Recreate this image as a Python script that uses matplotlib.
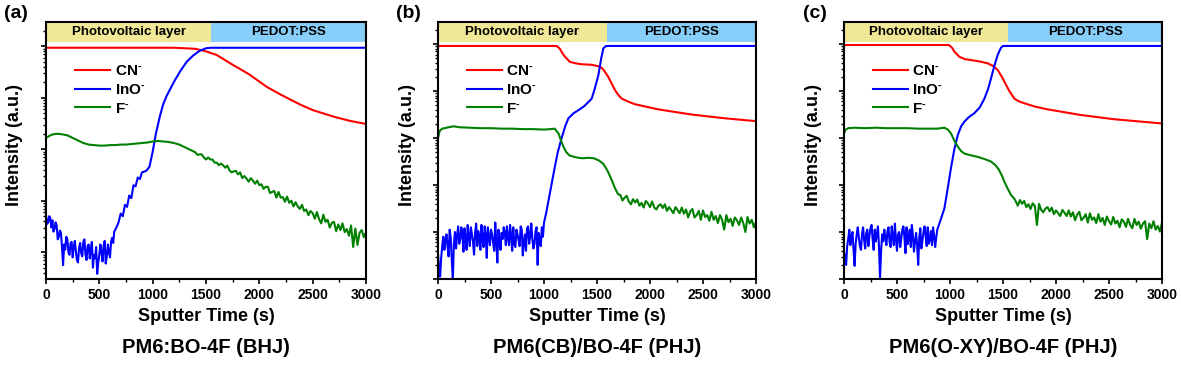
import matplotlib
matplotlib.use("Agg")
import matplotlib.pyplot as plt
import numpy as np

plt.rcParams['font.family'] = ['Liberation Sans', 'DejaVu Sans']
plt.rcParams['font.weight'] = 'bold'
plt.rcParams['mathtext.fontset'] = 'custom'
plt.rcParams['mathtext.rm'] = 'Liberation Sans:bold'
plt.rcParams['mathtext.default'] = 'rm'

# values are log10(intensity)
# ---- (a) PM6:BO-4F (BHJ)
a_cn_t = [0, 1200, 1400, 1500, 1600, 1750, 1900, 2070, 2200, 2380, 2500, 2700, 2850, 3000]
a_cn = [4.97, 4.97, 4.95, 4.90, 4.83, 4.64, 4.46, 4.21, 4.06, 3.87, 3.76, 3.63, 3.55, 3.49]

a_ino_t = (list(range(0, 641, 10)) + list(range(660, 901, 20))
           + [940, 970, 1000, 1030, 1070, 1100, 1130, 1200, 1260, 1320, 1380, 1440, 1500, 1550, 3000])
a_ino = [1.72, 1.55, 1.58, 1.70, 1.66, 1.48, 1.62, 1.40, 1.45, 1.58, 1.52, 1.25, 1.30, 1.42, 1.38, 1.10,
         0.75, 1.15, 1.05, 1.30, 1.25, 1.00, 0.95, 1.18, 1.20, 0.90, 1.10, 1.22, 1.02, 0.85, 0.80, 1.08,
         1.18, 0.98, 0.92, 1.20, 1.25, 0.95, 0.85, 1.12, 1.15, 0.88, 1.05, 1.20, 0.70, 0.95, 0.88, 1.10,
         0.58, 0.80, 0.95, 1.15, 1.00, 0.82, 1.12, 1.22, 0.78, 0.92, 1.15, 1.00, 0.90, 1.20, 1.28, 1.18,
         1.40,
         1.48, 1.58, 1.75, 1.70, 1.92, 1.88, 2.10, 2.05, 2.30, 2.28, 2.45, 2.42, 2.55,
         2.58, 2.66, 2.95, 3.30, 3.66, 3.88, 4.03, 4.31, 4.52, 4.70, 4.82, 4.91, 4.96, 4.97, 4.97]

a_f_t = list(range(0, 1351, 50)) + list(range(1400, 3001, 20))
a_f = [3.22, 3.28, 3.30, 3.29, 3.27, 3.22, 3.17, 3.12, 3.09, 3.08, 3.07, 3.07, 3.08, 3.08, 3.09, 3.09,
       3.10, 3.11, 3.12, 3.13, 3.15, 3.16, 3.15, 3.14, 3.12, 3.09, 3.04, 2.99,
       2.94, 2.89, 2.90, 2.90, 2.84, 2.80, 2.84, 2.80, 2.80, 2.74, 2.74, 2.69, 2.72, 2.69, 2.64,
       2.68, 2.59, 2.55, 2.57, 2.58, 2.51, 2.55, 2.44, 2.48, 2.43, 2.37, 2.44, 2.39, 2.33, 2.39,
       2.30, 2.32, 2.23, 2.27, 2.27,
       2.15, 2.17, 2.19, 2.06, 2.17, 2.06, 2.07, 1.98, 2.08, 1.96, 2.00, 1.89, 1.97, 1.89, 1.84,
       1.92, 1.80, 1.83, 1.72, 1.80,
       1.76, 1.65, 1.78, 1.64, 1.56, 1.73, 1.59, 1.63, 1.48, 1.57, 1.59, 1.41, 1.54, 1.43, 1.56,
       1.39, 1.45, 1.32, 1.52, 1.10, 1.46, 1.14, 1.38, 1.43, 1.29, 1.39]

# ---- (b) PM6(CB)/BO-4F (PHJ)
b_cn_t = [0, 1120, 1150, 1175, 1198, 1245, 1300, 1356, 1450, 1528, 1560, 1607, 1640, 1670, 1700, 1733,
          1800, 1858, 2079, 2393, 2708, 3000]
b_cn = [4.96, 4.96, 4.90, 4.80, 4.73, 4.62, 4.59, 4.57, 4.56, 4.52, 4.46, 4.30, 4.15, 4.02, 3.92, 3.84,
        3.77, 3.72, 3.61, 3.50, 3.42, 3.36]

b_ino_t = list(range(0, 1001, 10)) + [1020, 1040, 1070, 1100, 1130, 1165, 1200, 1230, 1280, 1330, 1380,
                                      1420, 1450, 1480, 1513, 1540, 1560, 1585, 3000]
b_ino = [0.55, 0.20, 0.05, 0.45, 0.70, 0.90, 0.62, 0.80, 0.95, 0.70, 0.48, 1.05, 0.88, 0.40, 0.00, 0.75,
         1.00, 0.65, 0.92, 1.12, 0.75, 0.85, 1.10, 0.95, 0.58, 1.08, 0.85, 0.62, 1.15, 0.88, 0.70, 1.10,
         0.95, 0.80, 0.52, 0.98, 1.18, 0.70, 1.02, 0.88, 0.62, 1.15, 0.85, 0.68, 1.12, 0.95, 0.45, 1.10,
         0.90, 0.72, 1.05, 0.95, 0.78, 0.60, 1.20, 0.78, 0.35, 1.05, 0.85, 0.62, 0.98, 0.85, 1.10, 0.98,
         0.72, 1.12, 0.88, 0.72, 1.15, 0.92, 0.60, 1.10, 0.75, 0.68, 1.05, 0.95, 0.82, 0.70, 1.12, 1.05,
         0.50, 0.80, 0.95, 0.60, 1.08, 1.12, 0.75, 0.92, 1.18, 0.85, 0.65, 0.75, 1.02, 1.10, 0.30, 0.98,
         0.85, 0.70, 1.10, 0.90, 1.20,
         1.40, 1.64, 2.00, 2.36, 2.70, 2.99, 3.25, 3.42, 3.53, 3.60, 3.68, 3.77, 3.84, 4.06, 4.34, 4.70,
         4.91, 4.96, 4.96]

b_f_t = [0, 15, 40, 100, 150, 200, 300, 400, 500, 600, 700, 800, 900, 1000, 1060, 1100, 1136, 1160, 1183,
         1210, 1240, 1300, 1360, 1420, 1470, 1520, 1560, 1600, 1640, 1670, 1700] + list(range(1720, 3001, 20))
b_f = [2.99, 3.15, 3.20, 3.23, 3.25, 3.23, 3.22, 3.21, 3.21, 3.20, 3.20, 3.19, 3.19, 3.18, 3.19, 3.20,
       3.10, 2.95, 2.82, 2.70, 2.63, 2.59, 2.57, 2.58, 2.57, 2.52, 2.45, 2.30, 2.10, 1.93, 1.80,
       1.79, 1.67, 1.73, 1.77, 1.65, 1.59, 1.70, 1.63, 1.69, 1.56, 1.62, 1.52, 1.66, 1.61, 1.53, 1.65,
       1.52, 1.48, 1.56, 1.59, 1.51, 1.59, 1.45, 1.53, 1.47, 1.40, 1.53, 1.47, 1.40, 1.52,
       1.39, 1.48, 1.31, 1.44, 1.49, 1.31, 1.36, 1.45, 1.26, 1.46, 1.32, 1.36, 1.24, 1.43, 1.26, 1.34,
       1.19, 1.36, 1.26, 1.05, 1.36, 1.21, 1.28, 1.13, 1.31, 1.25, 1.15, 1.31, 1.19, 1.00, 1.32, 1.18,
       1.26, 1.10, 1.22]

# ---- (c) PM6(O-XY)/BO-4F (PHJ)
c_cn_t = [0, 990, 1020, 1041, 1088, 1140, 1198, 1280, 1356, 1410, 1450, 1490, 1513, 1560, 1607, 1650,
          1702, 1800, 1922, 2236, 2551, 3000]
c_cn = [4.98, 4.98, 4.92, 4.84, 4.73, 4.68, 4.66, 4.63, 4.59, 4.53, 4.45, 4.30, 4.20, 4.00, 3.84, 3.78,
        3.74, 3.67, 3.61, 3.49, 3.40, 3.31]

c_ino_t = list(range(0, 881, 10)) + [910, 947, 980, 1009, 1040, 1073, 1105, 1136, 1180, 1230, 1280, 1325,
                                     1360, 1387, 1420, 1450, 1480, 1500, 3000]
c_ino = [0.60, 0.45, 0.30, 0.70, 0.85, 1.05, 0.72, 0.90, 1.00, 0.62, 0.28, 0.75, 0.95, 1.10, 0.88, 0.70,
         0.62, 0.95, 1.10, 0.82, 0.65, 0.98, 1.05, 0.70, 0.92, 1.08, 1.15, 0.85, 0.62, 1.05, 0.80, 0.95,
         1.12, 0.70, 0.02, 0.60, 0.95, 0.80, 1.05, 0.88, 0.72, 1.02, 1.10, 0.78, 0.68, 1.12, 0.90, 0.72,
         1.18, 0.85, 0.60, 0.95, 1.00, 0.68, 0.85, 1.05, 1.12, 0.90, 0.55, 1.10, 0.74, 0.85, 1.05, 0.68,
         1.15, 0.92, 0.58, 0.80, 0.98, 0.72, 0.30, 0.88, 1.08, 0.65, 0.82, 1.00, 1.12, 0.92, 0.70, 1.10,
         0.75, 0.85, 1.02, 0.72, 1.10, 0.92, 0.68, 0.88, 1.05,
         1.25, 1.50, 1.95, 2.36, 2.75, 3.06, 3.25, 3.35, 3.45, 3.53, 3.65, 3.84, 4.05, 4.27, 4.55, 4.77,
         4.92, 4.96, 4.96]

c_f_t = [0, 15, 40, 100, 200, 300, 400, 500, 600, 700, 800, 880, 947, 980, 1009, 1040, 1073, 1105, 1136,
         1200, 1261, 1330, 1387, 1430, 1460, 1490, 1513, 1545, 1575, 1610] + list(range(1640, 3001, 20))
c_f = [3.10, 3.18, 3.21, 3.22, 3.21, 3.22, 3.21, 3.21, 3.21, 3.20, 3.20, 3.20, 3.22, 3.18, 3.10, 2.95,
       2.82, 2.72, 2.67, 2.63, 2.60, 2.55, 2.50, 2.42, 2.33, 2.20, 2.07, 1.92, 1.79, 1.70,
       1.56, 1.68, 1.60, 1.66, 1.53, 1.59, 1.49, 1.61, 1.56, 1.15, 1.60, 1.47, 1.42, 1.50, 1.53, 1.44,
       1.52, 1.38, 1.46, 1.40, 1.34, 1.47, 1.41, 1.34, 1.46,
       1.33, 1.42, 1.25, 1.37, 1.43, 1.25, 1.30, 1.38, 1.20, 1.40, 1.26, 1.31, 1.19, 1.38, 1.22, 1.30,
       1.15, 1.33, 1.23, 1.16, 1.32, 1.18, 1.24, 1.10, 1.27, 1.22, 1.11, 1.28, 1.15, 1.08, 1.28, 1.15,
       1.22, 1.07, 1.18, 1.23, 0.85, 1.18, 1.08, 1.23, 1.05, 1.13, 1.01, 1.20]

panel_letters = ['(a)', '(b)', '(c)']
panel_titles = ['PM6:BO-4F (BHJ)', 'PM6(CB)/BO-4F (PHJ)', 'PM6(O-XY)/BO-4F (PHJ)']
layer_edge = [1550, 1590, 1550]
y_bottom = [0.48, 0.0, 0.0]
series = [
    [(a_cn_t, a_cn), (a_ino_t, a_ino), (a_f_t, a_f)],
    [(b_cn_t, b_cn), (b_ino_t, b_ino), (b_f_t, b_f)],
    [(c_cn_t, c_cn), (c_ino_t, c_ino), (c_f_t, c_f)],
]
ion_labels = [r'CN$^{\text{-}}$', r'InO$^{\text{-}}$', r'F$^{\text{-}}$']
ion_colors = ['#ff0000', '#0000ff', '#008000']

fig = plt.figure(figsize=(11.81, 3.75), dpi=100)
lefts = [46, 438, 844]
widths = [320, 318, 318]
letter_x = [4, 396, 803]

for k in range(3):
    ax = fig.add_axes([lefts[k] / 1181, 96 / 375, widths[k] / 1181, 257 / 375])
    for (t, d), lab, col in zip(series[k], ion_labels, ion_colors):
        ax.plot(t, 10 ** np.array(d), color=col, lw=1.5, label=lab)
    ax.set_yscale('log')

    ax.set_xticks([0, 500, 1000, 1500, 2000, 2500, 3000])
    ax.set_xticks(np.arange(250, 3000, 500), minor=True)
    ax.set_yticks([10.0 ** p for p in range(0, 6)])
    ax.yaxis.set_minor_locator(matplotlib.ticker.LogLocator(base=10, subs=np.arange(2, 10), numticks=20))
    # limits after the ticks, otherwise set_yticks widens them
    ax.set_xlim(0, 3000)
    ax.set_ylim(10 ** y_bottom[k], 10 ** 5.47)

    # layer band on top
    ax.axvspan(0, layer_edge[k], ymin=0.922, ymax=1, color='#f0e896', lw=0)
    ax.axvspan(layer_edge[k], 3000, ymin=0.922, ymax=1, color='#87cefa', lw=0)
    ax.text(layer_edge[k] / 2, 0.961, 'Photovoltaic layer', transform=ax.get_xaxis_transform(),
            ha='center', va='center', fontsize=9.5, fontweight='bold')
    ax.text((layer_edge[k] + 3000) / 2, 0.961, 'PEDOT:PSS', transform=ax.get_xaxis_transform(),
            ha='center', va='center', fontsize=9.5, fontweight='bold')

    ax.tick_params(axis='both', which='major', direction='out', length=3.5, width=1.2,
                   labelsize=10, pad=3)
    ax.tick_params(axis='both', which='minor', direction='out', length=2, width=1)
    ax.tick_params(axis='y', which='both', labelleft=False)
    for lab in ax.get_xticklabels():
        lab.set_fontweight('bold')
    for s in ax.spines.values():
        s.set_linewidth(1.5)

    ax.set_xlabel('Sputter Time (s)', fontsize=13, fontweight='bold', va='center')
    ax.xaxis.set_label_coords(0.5, -0.144)
    ax.set_ylabel('Intensity (a.u.)', fontsize=13, fontweight='bold', va='center')
    ax.yaxis.set_label_coords(-31 / widths[k], 0.52)

    ax.legend(loc='upper left', bbox_to_anchor=(0.09, 0.835), frameon=False, fontsize=11,
              handlelength=2.3, handletextpad=0.3, labelspacing=0.3, borderpad=0, borderaxespad=0)

    ax.text(0.5, -0.268, panel_titles[k], transform=ax.transAxes, ha='center', va='center',
            fontsize=14.5, fontweight='bold')
    fig.text(letter_x[k] / 1181, 1 - 13 / 375, panel_letters[k], ha='left', va='center',
             fontsize=14, fontweight='bold')

fig.savefig('out.png', dpi=100)
